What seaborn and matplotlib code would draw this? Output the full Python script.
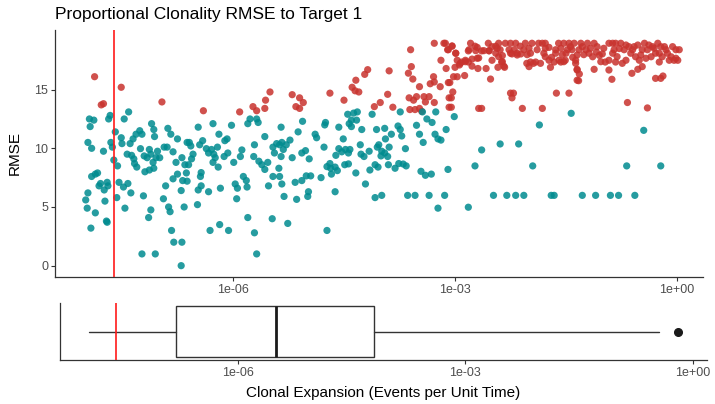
import numpy as np
import pandas as pd
import matplotlib
matplotlib.use("Agg")
import matplotlib.pyplot as plt
from matplotlib.ticker import NullLocator
import seaborn as sns

# ---- data (x as log10 of clonal expansion rate, y as RMSE) ----
red_points = [
    (-7.87, 16.1), (-7.51, 15.2), (-7.78, 13.7), (-7.75, 13.8), (-6.96, 13.95),
    (-6.40, 13.2), (-5.91, 13.1), (-5.73, 13.55), (-5.68, 13.2), (-5.57, 13.4), (-5.56, 14.1),
    (-5.50, 14.8), (-5.20, 14.57), (-5.10, 14.3), (-5.05, 13.9), (-5.15, 13.55), (-5.10, 13.4),
    (-4.69, 14.7), (-4.50, 14.1), (-4.39, 15.2), (-4.34, 15.8), (-4.30, 14.8), (-4.35, 14.9),
    (-4.22, 16.3), (-4.18, 16.7), (-4.09, 13.55), (-4.01, 13.9), (-3.91, 14.6), (-3.84, 13.5),
    (-3.89, 16.6), (-3.63, 16.4), (-3.59, 16.96), (-3.57, 15.9), (-3.60, 18.4), (-3.62, 14.3),
    (-3.56, 14.1), (-3.52, 14.4), (-3.61, 13.3), (-3.54, 13.3), (-3.48, 13.4), (-3.45, 13.15),
    (-3.48, 15.25), (-3.42, 14.4), (-3.40, 13.95), (-3.35, 14.4), (-3.28, 13.9), (-3.335, 15.5),
    (-3.29, 16.1), (-3.28, 15.65), (-3.20, 15.25), (-3.19, 17.5), (-3.12, 16.8), (-3.28, 18.95),
    (-3.15, 18.95), (-3.10, 18.4), (-3.09, 15.6), (-3.08, 14.3), (-3.08, 13.5),
    (-3.04, 18.7), (-2.99, 18.1), (-2.97, 17.5), (-2.94, 17.1), (-3.00, 16.9), (-3.02, 16.1),
    (-2.97, 16.1), (-3.07, 15.6), (-3.03, 14.8), (-3.05, 14.3), (-3.05, 13.5), (-2.87, 16.2),
    (-2.91, 17.35), (-2.86, 17.5), (-2.82, 17.35), (-2.82, 18.3), (-2.79, 18.95), (-2.73, 18.7),
    (-2.70, 18.6), (-2.77, 17.6), (-2.68, 17.7), (-2.69, 16.8), (-2.58, 16.8), (-2.64, 18.3),
    (-2.55, 18.95), (-2.54, 18.3), (-2.52, 15.9), (-2.50, 17.5), (-2.45, 18.1), (-2.45, 18.7),
    (-2.41, 18.95), (-2.39, 18.4), (-2.36, 17.9), (-2.37, 17.35), (-2.33, 16.9), (-2.42, 16.9),
    (-2.32, 18.95), (-2.25, 18.95), (-2.18, 18.95), (-2.27, 18.4), (-2.23, 18.04), (-2.16, 18.1),
    (-2.12, 18.7), (-2.07, 18.4), (-2.05, 18.95), (-2.025, 17.98), (-1.96, 18.95), (-1.98, 17.35),
    (-2.03, 17.24), (-1.91, 17.35), (-1.845, 17.24), (-1.89, 18.4), (-1.82, 18.95), (-1.78, 18.95),
    (-1.73, 18.6), (-1.78, 17.8), (-1.695, 17.75), (-1.64, 18.1), (-1.66, 17.35), (-1.60, 18.95),
    (-1.53, 18.95), (-1.46, 18.95), (-1.48, 18.4), (-1.55, 17.98), (-1.51, 17.5), (-1.57, 17.35),
    (-1.39, 18.95), (-1.42, 18.4), (-1.37, 17.5), (-1.35, 16.67),
    (-2.25, 14.7), (-2.21, 14.7), (-2.23, 14.3), (-2.68, 13.4), (-2.64, 13.4), (-2.09, 13.4),
    (-1.82, 13.4), (-1.63, 14.7), (-1.46, 14.7), (-1.35, 15.8), (-1.94, 17.24), (-2.00, 16.96),
    (-1.71, 16.9),
    (-1.30, 18.95), (-1.21, 18.95), (-1.12, 18.95), (-1.325, 18.4), (-1.23, 18.4), (-1.26, 17.98),
    (-1.19, 18.1), (-1.14, 17.8), (-1.09, 18.2), (-1.05, 17.92), (-1.01, 18.04), (-0.97, 17.35),
    (-0.92, 18.95), (-0.87, 18.95), (-0.83, 18.95), (-0.76, 18.95), (-0.85, 18.4), (-0.78, 18.5),
    (-0.92, 17.5), (-0.83, 17.35), (-0.74, 17.24), (-0.69, 17.5), (-0.65, 18.66), (-0.58, 18.66),
    (-0.625, 18.1), (-0.56, 17.8), (-0.51, 17.5), (-0.44, 18.95), (-0.47, 18.4), (-0.40, 18.4),
    (-0.33, 18.66), (-0.26, 18.95), (-0.29, 18.1), (-0.35, 17.8), (-0.24, 17.35), (-0.17, 18.66),
    (-0.20, 17.8), (-0.13, 18.1), (-0.06, 18.66), (-0.08, 17.8), (-0.015, 18.4), (0.01, 17.5),
    (-0.04, 17.5),
    (-1.37, 17.24), (-1.35, 16.73), (-1.32, 16.33), (-1.33, 15.76), (-1.12, 16.73), (-0.92, 16.67),
    (-0.88, 15.88), (-0.61, 16.39), (-0.53, 16.73), (-0.47, 16.96), (-0.29, 15.96), (-0.22, 15.96),
    (-0.19, 16.16), (-0.67, 13.9), (-0.40, 13.44),
    (-3.13, 18.95), (-3.04, 18.72), (-3.09, 18.4), (-2.99, 18.1), (-2.93, 17.24), (-2.86, 17.38),
    (-2.77, 17.0), (-2.81, 18.4), (-2.72, 18.32), (-2.70, 17.67), (-2.61, 18.32), (-2.54, 18.32),
    (-2.50, 18.66), (-2.43, 18.52), (-2.41, 17.81), (-2.36, 17.38), (-2.34, 17.0), (-2.25, 18.1),
    (-2.20, 18.4), (-2.16, 17.95), (-2.11, 18.04), (-2.00, 18.52), (-1.98, 18.1), (-1.87, 18.95),
    (-1.78, 18.52), (-1.80, 18.1), (-1.73, 17.5), (-1.64, 18.4), (-1.595, 17.5), (-1.57, 18.52),
    (-1.53, 17.38), (-1.50, 18.1), (-1.44, 18.66), (-1.41, 17.75), (-1.35, 17.95),
    (-1.28, 18.66), (-1.17, 18.52), (-1.08, 18.66), (-0.99, 18.52), (-1.03, 17.38), (-0.87, 18.1),
    (-0.81, 17.81), (-0.715, 18.4), (-0.69, 18.8), (-0.60, 18.4), (-0.53, 18.8), (-0.49, 17.95),
    (-0.42, 17.67), (-0.38, 18.8), (-0.31, 18.52), (-0.24, 18.1), (-0.22, 18.66), (-0.15, 18.4),
    (-0.105, 17.5), (-0.015, 17.67), (0.03, 18.4),
]

teal_points = [
    (-7.94, 12.5), (-7.88, 12.4), (-7.93, 11.85), (-7.68, 12.5), (-7.66, 12.8), (-7.47, 12.5),
    (-7.41, 13.1), (-7.96, 10.5), (-7.91, 10.0), (-7.75, 9.75), (-7.65, 10.5), (-7.63, 10.1),
    (-7.59, 11.4), (-7.51, 10.9), (-7.50, 10.4), (-7.61, 9.0), (-7.56, 8.5), (-7.91, 7.6),
    (-7.86, 7.8), (-7.83, 7.9), (-7.79, 7.0), (-7.81, 6.8), (-7.70, 7.1), (-7.69, 6.8),
    (-7.74, 6.45), (-7.54, 7.1), (-7.48, 6.7), (-7.42, 7.0), (-7.96, 6.2), (-7.99, 5.6),
    (-7.97, 4.9), (-7.73, 5.5), (-7.57, 5.8), (-7.86, 4.5), (-7.71, 3.8), (-7.70, 3.7),
    (-7.92, 3.2), (-7.46, 4.9), (-7.38, 6.2), (-7.43, 9.5), (-7.37, 9.4), (-7.34, 9.1),
    (-7.33, 8.7), (-7.30, 8.4), (-7.39, 10.4), (-7.35, 10.8), (-7.31, 11.2), (-7.26, 11.5),
    (-7.23, 11.2), (-7.25, 9.97), (-7.20, 9.35), (-7.16, 9.2), (-7.13, 9.9), (-7.10, 12.1),
    (-7.07, 11.6), (-7.06, 11.0), (-7.11, 9.5), (-7.08, 8.8), (-7.04, 9.2), (-7.02, 9.75),
    (-6.99, 9.2), (-7.19, 8.0), (-7.13, 8.15), (-7.07, 8.3), (-7.21, 5.95), (-7.11, 4.75),
    (-7.14, 4.1), (-7.23, 1.0), (-7.05, 1.0), (-6.94, 5.7), (-6.91, 6.8), (-6.88, 11.7),
    (-6.84, 11.2), (-6.93, 10.1), (-6.89, 10.1), (-6.81, 9.7), (-6.75, 10.8), (-6.77, 8.8),
    (-6.69, 9.2), (-6.65, 8.6), (-6.75, 7.8), (-6.81, 7.4), (-6.68, 7.25), (-6.70, 6.4),
    (-6.87, 5.0), (-6.85, 4.6), (-6.83, 3.0), (-6.80, 2.0), (-6.69, 2.0), (-6.70, 0.0),
    (-6.66, 5.0), (-6.62, 10.5),
    (-6.47, 11.8), (-6.59, 10.5), (-6.57, 10.2), (-6.45, 10.3), (-6.41, 10.65), (-6.27, 12.1),
    (-6.19, 11.2), (-6.11, 10.65), (-6.08, 10.8), (-6.02, 11.96), (-6.36, 9.97), (-6.33, 9.6),
    (-6.29, 9.9), (-6.26, 9.5), (-6.21, 10.1), (-6.24, 9.2), (-6.27, 8.8), (-6.20, 8.4),
    (-6.56, 9.1), (-6.54, 9.5), (-6.60, 8.6), (-6.63, 7.9), (-6.62, 7.2), (-6.43, 7.93),
    (-6.44, 7.6), (-6.12, 9.3), (-6.07, 9.6), (-5.99, 8.8), (-5.88, 9.86), (-5.90, 9.3),
    (-5.86, 7.6), (-5.82, 7.25), (-5.81, 6.7), (-5.97, 6.96), (-5.94, 6.6), (-5.95, 5.7),
    (-6.47, 6.45), (-6.43, 6.8), (-6.33, 6.3), (-6.17, 6.6), (-6.48, 5.2), (-5.80, 12.1),
    (-5.77, 12.5), (-5.68, 12.5), (-5.66, 12.2), (-5.71, 10.3), (-5.72, 9.3), (-5.65, 8.9),
    (-5.61, 8.6), (-5.57, 8.2), (-5.53, 8.8), (-5.57, 11.0), (-5.46, 10.1), (-5.41, 10.4),
    (-5.37, 10.3), (-5.34, 10.5), (-5.44, 9.6), (-5.35, 9.3), (-5.32, 9.9), (-5.28, 10.3),
    (-5.23, 10.7), (-5.35, 11.8), (-5.20, 9.2), (-5.52, 6.8), (-5.46, 7.6), (-5.38, 8.3),
    (-5.37, 7.6), (-5.34, 6.96), (-5.31, 5.9), (-5.16, 7.1), (-5.07, 7.25), (-5.01, 7.65),
    (-4.95, 7.65), (-5.14, 5.65), (-4.99, 5.9), (-4.98, 6.3), (-5.06, 12.3), (-5.12, 11.4),
    (-5.07, 9.6), (-5.02, 9.8), (-4.97, 9.1), (-4.89, 11.2), (-4.87, 10.9), (-5.80, 4.1),
    (-5.47, 4.0), (-5.26, 3.6), (-6.31, 3.0), (-6.18, 3.5), (-6.06, 3.0), (-5.71, 2.8),
    (-5.68, 1.0),
    (-4.75, 12.2), (-4.76, 11.99), (-4.77, 10.1), (-4.81, 7.5), (-4.73, 8.44), (-4.69, 8.7),
    (-4.67, 7.8), (-4.62, 8.4), (-4.59, 8.1), (-4.68, 8.3), (-4.61, 9.4), (-4.57, 9.97),
    (-4.53, 9.7), (-4.48, 9.9), (-4.44, 9.6), (-4.42, 9.9), (-4.57, 11.8), (-4.51, 10.8),
    (-4.49, 8.6), (-4.44, 8.67), (-4.62, 6.3), (-4.73, 3.0), (-4.45, 12.9), (-4.37, 13.0),
    (-4.32, 13.1), (-4.40, 12.4), (-4.43, 12.1), (-4.33, 12.4), (-4.40, 11.85), (-4.26, 11.6),
    (-4.28, 10.3), (-4.27, 9.5), (-4.23, 9.3), (-4.34, 7.9), (-4.16, 9.75), (-4.15, 8.15),
    (-4.21, 6.96), (-4.12, 12.9), (-4.06, 11.6), (-4.03, 10.3), (-3.99, 9.75), (-4.05, 10.1),
    (-3.95, 11.7), (-3.94, 10.8), (-4.00, 9.35), (-3.95, 9.6), (-3.89, 10.1), (-3.91, 9.3),
    (-4.08, 8.6), (-4.04, 8.4), (-3.90, 8.6), (-3.86, 11.2), (-3.81, 8.3), (-3.76, 8.7),
    (-3.70, 8.66), (-3.66, 8.5), (-3.77, 11.9), (-3.74, 11.6), (-3.72, 11.05), (-3.74, 13.1),
    (-3.67, 9.97), (-4.08, 5.8), (-3.99, 5.99), (-3.64, 5.99), (-3.54, 5.99), (-3.52, 11.96),
    (-3.48, 11.2), (-3.43, 10.5), (-3.44, 13.1), (-3.38, 12.5), (-3.31, 12.2), (-3.46, 8.04),
    (-3.40, 7.7), (-3.32, 7.8), (-3.27, 11.2), (-3.23, 10.8), (-3.19, 10.7), (-3.26, 13.1),
    (-3.12, 11.6), (-3.35, 5.99), (-3.14, 5.99), (-3.23, 4.9), (-3.095, 8.2),
    (-3.01, 12.7), (-2.64, 9.86), (-2.73, 8.5), (-2.82, 4.98), (-2.48, 5.99), (-2.30, 5.99),
    (-2.18, 5.99), (-2.07, 5.99), (-2.39, 10.37), (-2.14, 10.37), (-1.95, 8.5), (-1.86, 11.99),
    (-1.70, 5.99), (-1.66, 5.99), (-1.43, 12.98),
    (-1.28, 5.99), (-1.10, 5.99), (-0.90, 5.99), (-0.79, 5.99), (-0.57, 5.99), (-0.68, 8.5),
    (-0.22, 8.5), (-0.45, 11.53),
]

target_log10 = -7.61                      # red reference line
box_log10 = dict(whislo=-7.96, q1=-6.82, med=-5.50, q3=-4.20, whishi=-0.44)
box_fliers_log10 = [-0.20]

x_ticks = [1e-6, 1e-3, 1e0]
x_tick_labels = ["1e-06", "1e-03", "1e+00"]
y_ticks = [0, 5, 10, 15]

title = "Proportional Clonality RMSE to Target 1"
y_label = "RMSE"
x_label = "Clonal Expansion (Events per Unit Time)"

# ---- style ----
sns.set_theme(style="ticks")
plt.rcParams["font.family"] = ["Liberation Sans", "DejaVu Sans"]

red_col = "#C8332E"
teal_col = "#008B8F"
spine_col = "#333333"
tick_lab_col = "#4D4D4D"

W, H = 715, 404
fig = plt.figure(figsize=(W / 100, H / 100), dpi=100)
ax = fig.add_axes([55 / W, 1 - 276.7 / H, (703 - 55) / W, (276.7 - 30) / H])
ax2 = fig.add_axes([60 / W, 1 - 360 / H, (707 - 60) / W, 57 / H])

df = pd.DataFrame({
    "x": 10 ** np.array([p[0] for p in red_points] + [p[0] for p in teal_points]),
    "rmse": [p[1] for p in red_points] + [p[1] for p in teal_points],
    "group": ["high"] * len(red_points) + ["low"] * len(teal_points),
})

ax.set_xscale("log")
sns.scatterplot(data=df, x="x", y="rmse", hue="group",
                palette={"high": red_col, "low": teal_col},
                s=27, alpha=0.85, linewidth=0, legend=False, ax=ax)
ax.axvline(10 ** target_log10, color="#FF1A1A", lw=1.2, zorder=3)
ax.set_xlim(10 ** -8.405, 10 ** 0.351)
ax.set_ylim(-0.94, 20.08)
ax.set_xticks(x_ticks)
ax.set_xticklabels(x_tick_labels)
ax.xaxis.set_minor_locator(NullLocator())
ax.set_yticks(y_ticks)
ax.set_xlabel("")
ax.set_ylabel(y_label, fontsize=11, color="black")
ax.yaxis.set_label_coords(-0.051, 0.5)

# ---- bottom boxplot ----
ax2.set_xscale("log")
stats = [dict(whislo=10 ** box_log10["whislo"], q1=10 ** box_log10["q1"],
              med=10 ** box_log10["med"], q3=10 ** box_log10["q3"],
              whishi=10 ** box_log10["whishi"],
              fliers=10 ** np.array(box_fliers_log10))]
ax2.bxp(stats, positions=[0], widths=0.9, orientation="horizontal",
        showcaps=False, patch_artist=True,
        boxprops=dict(facecolor="white", edgecolor=spine_col, linewidth=1.0),
        medianprops=dict(color="#1A1A1A", linewidth=2.0),
        whiskerprops=dict(color=spine_col, linewidth=1.0),
        flierprops=dict(marker="o", markerfacecolor="#1A1A1A",
                        markeredgecolor="#1A1A1A", markersize=5.5))
ax2.axvline(10 ** target_log10, color="#FF1A1A", lw=1.2, zorder=3)
lo = box_log10["whislo"]
hi = max(box_fliers_log10)
pad = 0.05 * (hi - lo)
ax2.set_xlim(10 ** (lo - pad), 10 ** (hi + pad))
ax2.set_ylim(-0.5, 0.5)
ax2.set_yticks([])
ax2.set_xticks(x_ticks)
ax2.set_xticklabels(x_tick_labels)
ax2.xaxis.set_minor_locator(NullLocator())
ax2.set_xlabel(x_label, fontsize=11, color="black")
ax2.xaxis.set_label_coords(0.5, -0.46)

for a in (ax, ax2):
    sns.despine(ax=a)
    for s in ("left", "bottom"):
        a.spines[s].set_color(spine_col)
        a.spines[s].set_linewidth(0.9)
    a.tick_params(axis="both", which="major", length=3, width=0.8,
                  color=spine_col, labelcolor=tick_lab_col, labelsize=9, pad=2)
ax2.tick_params(axis="y", length=0)

fig.text(55 / W, 1 - 15 / H, title, fontsize=12.5, color="black",
         ha="left", va="center")

fig.savefig("out.png", dpi=100)
